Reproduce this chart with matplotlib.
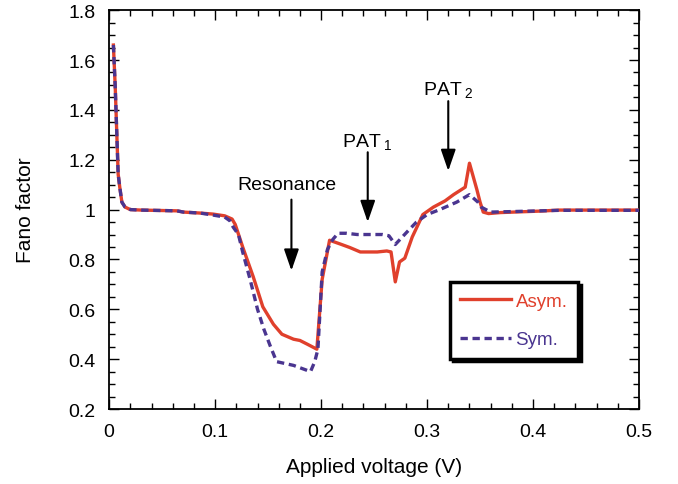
import matplotlib
matplotlib.use("Agg")
import matplotlib.pyplot as plt
from matplotlib.ticker import MultipleLocator, FuncFormatter

plt.rcParams['font.family'] = ['Liberation Sans', 'DejaVu Sans']
plt.rcParams['mathtext.fontset'] = 'custom'
plt.rcParams['mathtext.rm'] = 'Liberation Sans'
plt.rcParams['mathtext.it'] = 'Liberation Sans:italic'
plt.rcParams['mathtext.bf'] = 'Liberation Sans:bold'

# Asymmetric barrier data
asym_v = [0.004, 0.0057, 0.0085, 0.010, 0.012, 0.015, 0.020, 0.030, 0.064, 0.070, 0.086,
          0.098, 0.109, 0.116, 0.119, 0.126, 0.136, 0.145, 0.155, 0.163, 0.174, 0.180,
          0.187, 0.196, 0.201, 0.208, 0.218, 0.227, 0.237, 0.253, 0.262, 0.266, 0.270,
          0.274, 0.279, 0.286, 0.296, 0.306, 0.317, 0.325, 0.336, 0.340, 0.347, 0.350,
          0.353, 0.358, 0.369, 0.407, 0.425, 0.500]
asym_f = [1.66, 1.495, 1.142, 1.09, 1.03, 1.01, 1.0, 0.998, 0.995, 0.99, 0.986,
          0.982, 0.975, 0.962, 0.94, 0.85, 0.73, 0.61, 0.54, 0.50, 0.48, 0.475,
          0.46, 0.44, 0.72, 0.877, 0.862, 0.848, 0.83, 0.83, 0.834, 0.83, 0.71,
          0.79, 0.805, 0.89, 0.98, 1.01, 1.035, 1.06, 1.09, 1.186, 1.08, 1.03,
          0.99, 0.984, 0.988, 0.994, 0.998, 0.998]

# Symmetric barrier data
sym_v = [0.004, 0.0057, 0.0085, 0.010, 0.012, 0.015, 0.020, 0.030, 0.064, 0.070, 0.086,
         0.098, 0.109, 0.114, 0.117, 0.122, 0.126, 0.133, 0.140, 0.146, 0.152, 0.158,
         0.174, 0.190, 0.194, 0.197, 0.201, 0.206, 0.211, 0.216, 0.224, 0.234, 0.258,
         0.264, 0.270, 0.281, 0.290, 0.300, 0.312, 0.328, 0.340, 0.348, 0.351, 0.360,
         0.380, 0.425, 0.500]
sym_f = [1.66, 1.495, 1.142, 1.09, 1.03, 1.01, 1.0, 0.998, 0.995, 0.99, 0.986,
         0.978, 0.97, 0.955, 0.93, 0.90, 0.83, 0.72, 0.60, 0.52, 0.453, 0.39,
         0.375, 0.35, 0.39, 0.44, 0.75, 0.84, 0.88, 0.905, 0.905, 0.90, 0.90,
         0.895, 0.86, 0.91, 0.95, 0.98, 1.0, 1.03, 1.06, 1.03, 1.01, 0.99,
         0.992, 0.997, 0.997]

# Annotations: label, x, text y, arrow tail y, arrow tip y
ann_labels = ["Resonance", r"PAT$_{\ 1}$", r"PAT$_{\ 2}$"]
ann_x = [0.172, 0.244, 0.320]
ann_text_y = [1.10, 1.275, 1.483]
ann_tail_y = [1.04, 1.23, 1.435]
ann_tip_y = [0.755, 0.95, 1.155]

red = '#E0402C'
purple = '#4A3590'

fig = plt.figure(figsize=(6.78, 4.85), dpi=100)
ax = fig.add_axes([0.161, 0.1546, 0.7815, 0.8224])

ax.plot(asym_v, asym_f, color=red, lw=2.4, label='Asym.', zorder=3)
ax.plot(sym_v, sym_f, color=purple, lw=2.4, ls=(0, (2.2, 1.4)), label='Sym.', zorder=4)

ax.set_xlim(0, 0.5)
ax.set_ylim(0.2, 1.8)
ax.xaxis.set_major_locator(MultipleLocator(0.1))
ax.xaxis.set_minor_locator(MultipleLocator(0.02))
ax.yaxis.set_major_locator(MultipleLocator(0.2))
ax.yaxis.set_minor_locator(MultipleLocator(0.05))
fmt = FuncFormatter(lambda v, p: '%g' % round(v, 3))
ax.xaxis.set_major_formatter(fmt)
ax.yaxis.set_major_formatter(fmt)

ax.tick_params(which='both', direction='in', top=True, right=True, labelsize=14)
ax.tick_params(axis='x', which='major', pad=10)
ax.tick_params(axis='y', which='major', pad=10)
ax.tick_params(which='major', length=7, width=1)
ax.tick_params(which='minor', length=4, width=1)
for s in ax.spines.values():
    s.set_linewidth(1.3)

ax.set_xlabel('Applied voltage (V)', fontsize=15, labelpad=12)
ax.set_ylabel('Fano factor', fontsize=15, labelpad=24)

for lab, x, ty, y0, y1 in zip(ann_labels, ann_x, ann_text_y, ann_tail_y, ann_tip_y):
    ax.text(x - 0.004 if lab == "Resonance" else x, ty, lab, ha='center', va='center', fontsize=14)
    ax.annotate('', xy=(x, y1), xytext=(x, y0),
                arrowprops=dict(arrowstyle='-|>,head_length=1.3,head_width=0.45',
                                color='black', lw=1.5, shrinkA=0, shrinkB=0))

leg = ax.legend(loc='upper left', bbox_to_anchor=(0.643, 0.318), fontsize=13.5,
                frameon=True, fancybox=False, edgecolor='black', framealpha=1,
                handlelength=2.7, labelspacing=1.15, borderpad=0.55, handletextpad=0.25,
                borderaxespad=0, labelcolor='linecolor',
                shadow={'color': 'black', 'alpha': 1, 'ox': 2, 'oy': -2})
leg.get_frame().set_linewidth(2.5)

fig.savefig('out.png', dpi=100)
